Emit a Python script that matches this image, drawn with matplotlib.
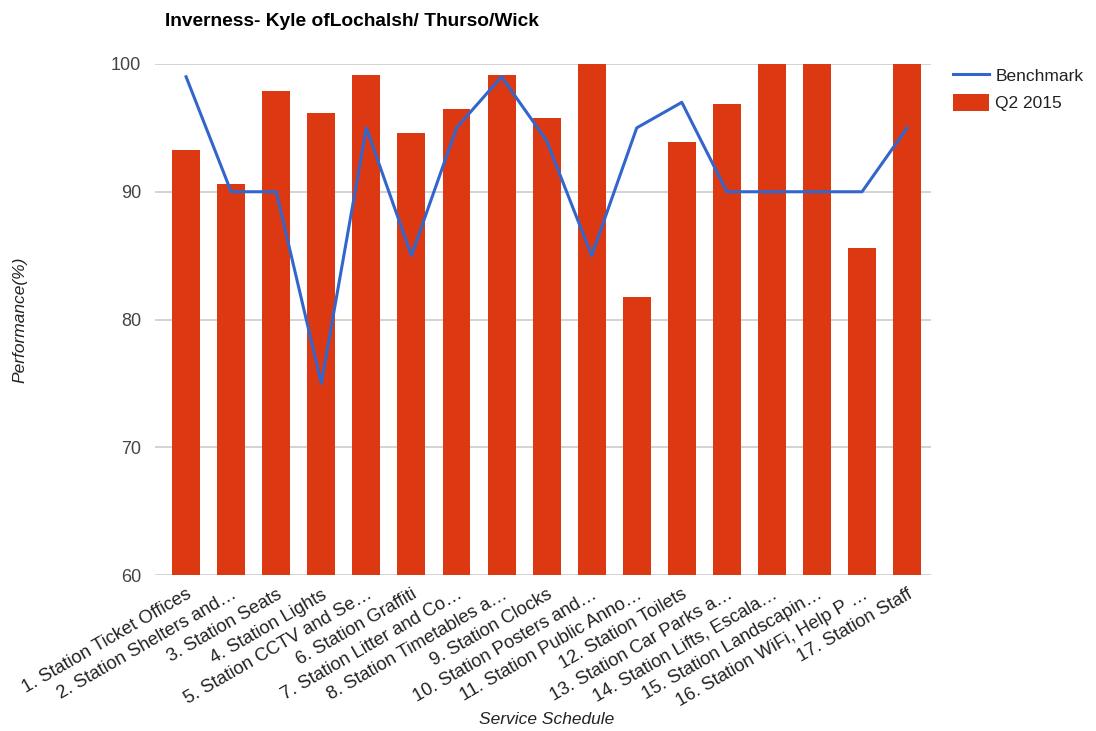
import matplotlib.pyplot as plt
import numpy as np
from matplotlib.lines import Line2D
from matplotlib.patches import Patch

plt.rcParams["font.family"] = ["Liberation Sans", "DejaVu Sans"]

categories = [
    "1. Station Ticket Offices",
    "2. Station Shelters and…",
    "3. Station Seats",
    "4. Station Lights",
    "5. Station CCTV and Se…",
    "6. Station Graffiti",
    "7. Station Litter and Co…",
    "8. Station Timetables a…",
    "9. Station Clocks",
    "10. Station Posters and…",
    "11. Station Public Anno…",
    "12. Station Toilets",
    "13. Station Car Parks a…",
    "14. Station Lifts, Escala…",
    "15. Station Landscapin…",
    "16. Station WiFi, Help P …",
    "17. Station Staff",
]
q2_2015 = [93.3, 90.6, 97.9, 96.2, 99.1, 94.6, 96.5, 99.1, 95.8, 100,
           81.8, 93.9, 96.9, 100, 100, 85.6, 100]
benchmark = [99, 90, 90, 75, 95, 85, 95, 99, 94, 85, 95, 97, 90, 90, 90, 90, 95]
y_ticks = [60, 70, 80, 90, 100]

BAR_COLOR = "#DC3912"
LINE_COLOR = "#3366CC"

fig = plt.figure(figsize=(10.96, 7.31), dpi=100)
ax = fig.add_axes([155 / 1096, 1 - 575 / 731, (931 - 155) / 1096, (575 - 64) / 731])

x = np.arange(len(categories))
ax.bar(x, q2_2015, width=0.62, color=BAR_COLOR, zorder=2)
ax.plot(x, benchmark, color=LINE_COLOR, linewidth=2.2, zorder=3)

ax.set_ylim(60, 100)
ax.set_xlim(-0.69, 16.53)
ax.set_yticks(y_ticks)
ax.set_yticklabels([str(v) for v in y_ticks], fontsize=13, color="#444444")
ax.grid(axis="y", color="#cccccc", linewidth=1.2, zorder=0)
ax.tick_params(axis="both", length=0)
ax.tick_params(axis="y", pad=10)
for s in ax.spines.values():
    s.set_visible(False)

ax.set_xticks(x)
ax.set_xticklabels(categories, rotation=30, ha="right", rotation_mode="anchor",
                   fontsize=13.2, color="#222222")
ax.tick_params(axis="x", pad=8)

fig.text(547 / 1096, 1 - 720 / 731, "Service Schedule", fontsize=12.5, style="italic",
         color="#222222", ha="center", va="center")
fig.text(20 / 1096, 1 - 320 / 731, "Performance(%)", fontsize=12.5, style="italic",
         color="#222222", ha="center", va="center", rotation=90)

fig.text(165 / 1096, 1 - 22 / 731, "Inverness- Kyle ofLochalsh/ Thurso/Wick",
         fontsize=13.8, fontweight="bold", color="#000000", va="center", ha="left")

handles = [
    Line2D([0], [0], color=LINE_COLOR, linewidth=2.2),
    Patch(facecolor=BAR_COLOR, edgecolor="none"),
]
fig.legend(handles, ["Benchmark", "Q2 2015"], loc="upper left",
           bbox_to_anchor=(937 / 1096, 1 - 51 / 731), frameon=False,
           fontsize=12.5, handlelength=2.1, handleheight=1.15, labelspacing=0.55,
           handletextpad=0.35, labelcolor="#222222")

fig.savefig("out.png", dpi=100)
